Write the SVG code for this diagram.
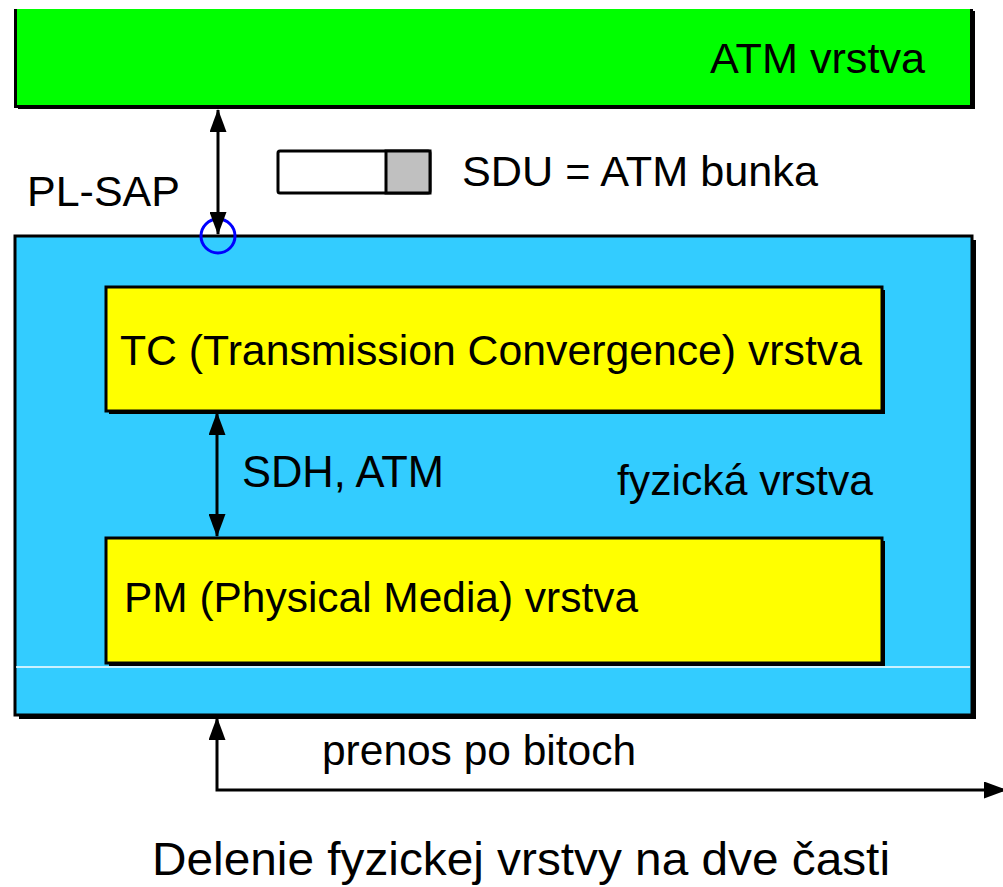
<svg xmlns="http://www.w3.org/2000/svg" width="1003" height="887" viewBox="0 0 1003 887">
<defs>
<style>
text{font-family:"Liberation Sans",Arial,sans-serif;fill:#000}
.box{stroke:#000;stroke-width:3}
.ln{stroke:#000;stroke-width:3;fill:none}
</style>
<marker id="ah" viewBox="0 0 23 17" refX="22" refY="8.5" markerWidth="23" markerHeight="17" orient="auto-start-reverse" markerUnits="userSpaceOnUse">
<path d="M0,0 L23,8.5 L0,17 Z" fill="#000"/>
</marker>
</defs>
<rect width="1003" height="887" fill="#fff"/>
<g id="atm">
<rect x="18" y="11" width="957" height="98" fill="#000"/>
<rect x="15" y="9" width="957" height="97" fill="#00ff00"/>
<path d="M15.5,9 V106.5 H971.5 V9" class="ln"/>
<text x="710" y="73" font-size="43" textLength="215" lengthAdjust="spacingAndGlyphs">ATM vrstva</text>
</g>
<g id="phys">
<rect x="19" y="240" width="957" height="479" fill="#000"/>
<rect x="15" y="236" width="957" height="479" fill="#33ccff" class="box"/>
<line x1="16" y1="667" x2="970" y2="667" stroke="#fff" stroke-width="1.5"/>
<text x="617" y="495" font-size="43" textLength="256" lengthAdjust="spacingAndGlyphs">fyzická vrstva</text>
</g>
<g id="tc">
<rect x="109" y="290" width="776" height="124" fill="#000"/>
<rect x="106" y="287" width="776" height="124" fill="#ffff00" class="box"/>
<text x="120" y="365" font-size="43" textLength="742" lengthAdjust="spacingAndGlyphs">TC (Transmission Convergence) vrstva</text>
</g>
<g id="pm">
<rect x="109" y="541" width="776" height="125" fill="#000"/>
<rect x="106" y="538" width="776" height="125" fill="#ffff00" class="box"/>
<text x="124" y="612" font-size="42.5" textLength="514" lengthAdjust="spacingAndGlyphs">PM (Physical Media) vrstva</text>
</g>
<g id="sdu">
<rect x="278" y="151" width="152" height="42" rx="2" fill="#fff" class="box"/>
<rect x="386" y="151" width="44" height="42" fill="#c0c0c0" class="box"/>
<text x="462" y="186" font-size="43" textLength="356" lengthAdjust="spacingAndGlyphs">SDU = ATM bunka</text>
</g>
<g id="plsap">
<circle cx="218" cy="236" r="17" fill="none" stroke="#0000ff" stroke-width="3"/>
<text x="27" y="206" font-size="43" textLength="153" lengthAdjust="spacingAndGlyphs">PL-SAP</text>
</g>
<g id="connectors">
<line x1="218" y1="110" x2="218" y2="234" class="ln" marker-start="url(#ah)" marker-end="url(#ah)"/>
<line x1="217" y1="413" x2="217" y2="536" class="ln" marker-start="url(#ah)" marker-end="url(#ah)"/>
<path d="M217,718 V790 H1006" class="ln" marker-start="url(#ah)" marker-end="url(#ah)"/>
</g>
<text x="242" y="487" font-size="43.5" textLength="202" lengthAdjust="spacingAndGlyphs">SDH, ATM</text>
<text x="322" y="765" font-size="42.5" textLength="314" lengthAdjust="spacingAndGlyphs">prenos po bitoch</text>
<text x="152" y="875" font-size="47" textLength="738" lengthAdjust="spacingAndGlyphs">Delenie fyzickej vrstvy na dve časti</text>
</svg>
